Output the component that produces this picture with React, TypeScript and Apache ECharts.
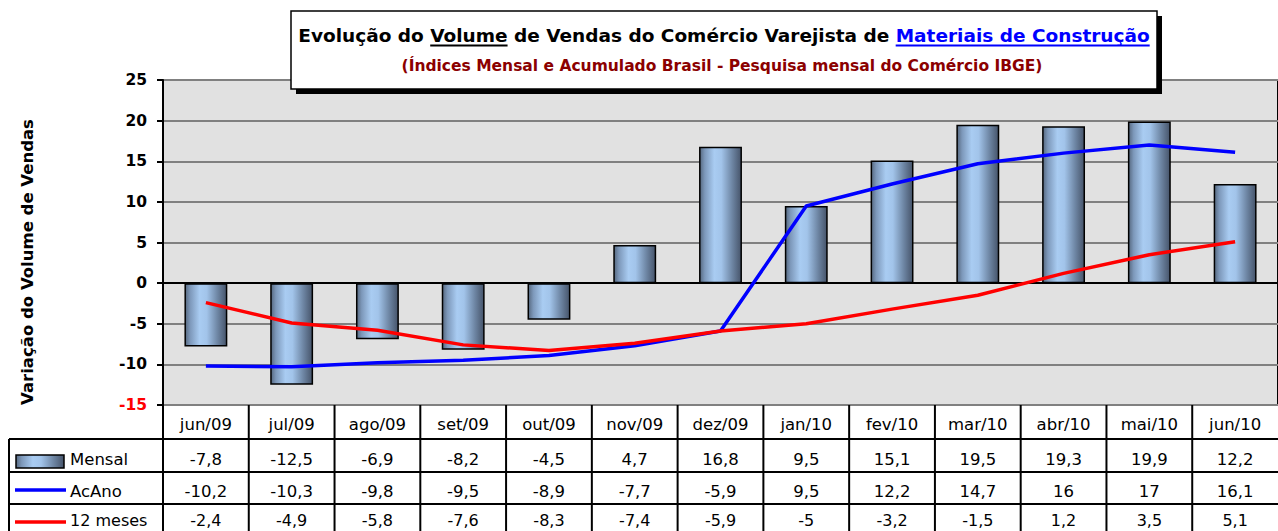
import React, { useEffect, useRef } from 'react';
import * as echarts from 'echarts';

const categories = ['jun/09', 'jul/09', 'ago/09', 'set/09', 'out/09', 'nov/09', 'dez/09', 'jan/10', 'fev/10', 'mar/10', 'abr/10', 'mai/10', 'jun/10'];
const mensal = [-7.8, -12.5, -6.9, -8.2, -4.5, 4.7, 16.8, 9.5, 15.1, 19.5, 19.3, 19.9, 12.2];
const acAno = [-10.2, -10.3, -9.8, -9.5, -8.9, -7.7, -5.9, 9.5, 12.2, 14.7, 16, 17, 16.1];
const dozeMeses = [-2.4, -4.9, -5.8, -7.6, -8.3, -7.4, -5.9, -5, -3.2, -1.5, 1.2, 3.5, 5.1];
const seriesNames = ['Mensal', 'AcAno', '12 meses'];
const yMin = -15;
const yMax = 25;
const yStep = 5;

const titleParts = [
  { text: 'Evolução do ', color: '#000000', underline: false },
  { text: 'Volume', color: '#000000', underline: true },
  { text: ' de Vendas do Comércio Varejista de ', color: '#000000', underline: false },
  { text: 'Materiais de Construção', color: '#0000ff', underline: true },
];
const subtitle = '(Índices Mensal e Acumulado Brasil - Pesquisa mensal do Comércio IBGE)';
const yAxisTitle = 'Variação do Volume de Vendas';

const W = 1278;
const H = 531;
const GRID = { left: 163, top: 80, right: 0, bottom: 126 };
const BOLD_FONT = '"DejaVu Sans", Verdana, sans-serif';
const TABLE_FONT = '"DejaVu Sans", Verdana, sans-serif';

const fmt = (v: number) => String(v).replace('.', ',');

const barGradient = () =>
  new echarts.graphic.LinearGradient(0, 0, 1, 0, [
    { offset: 0, color: '#56687f' },
    { offset: 0.12, color: '#7d98ba' },
    { offset: 0.35, color: '#a9ccf2' },
    { offset: 0.52, color: '#a2c4ea' },
    { offset: 0.78, color: '#6e86a4' },
    { offset: 1, color: '#46546a' },
  ]);

function measure(text: string, font: string): number {
  const c = document.createElement('canvas');
  const ctx = c.getContext('2d');
  if (!ctx) return text.length * 9;
  ctx.font = font;
  return ctx.measureText(text).width;
}

function fitSize(text: string, target: number, maxSize: number): number {
  const w = measure(text, `bold 100px ${BOLD_FONT}`);
  const s = (100 * target) / w;
  return Math.min(maxSize, Math.max(10, s));
}

function buildGraphics(): any[] {
  const g: any[] = [];
  // Title box with shadow
  const bx = 291, by = 11, bw = 866, bh = 78;
  g.push({ type: 'rect', shape: { x: bx + 5, y: by + 5, width: bw, height: bh }, style: { fill: '#000' }, z: 10 });
  g.push({ type: 'rect', shape: { x: bx, y: by, width: bw, height: bh }, style: { fill: '#fff', stroke: '#000', lineWidth: 1.5 }, z: 11 });

  const fullTitle = titleParts.map((p) => p.text).join('');
  const tSize = fitSize(fullTitle, 852, 18.5);
  const tFont = `bold ${tSize}px ${BOLD_FONT}`;
  const widths = titleParts.map((p) => measure(p.text, tFont));
  const total = widths.reduce((a, b) => a + b, 0);
  let x = 724 - total / 2;
  titleParts.forEach((p, i) => {
    g.push({
      type: 'text', x, y: 35, z: 12,
      style: { text: p.text, fill: p.color, font: tFont, align: 'left', verticalAlign: 'middle' },
    });
    if (p.underline) {
      g.push({ type: 'line', z: 12, shape: { x1: x, y1: 45.5, x2: x + widths[i], y2: 45.5 }, style: { stroke: p.color, lineWidth: 2 } });
    }
    x += widths[i];
  });
  const sSize = fitSize(subtitle, 742, 15.5);
  g.push({
    type: 'text', x: 722, y: 66, z: 12,
    style: { text: subtitle, fill: '#8b0000', font: `bold ${sSize}px ${BOLD_FONT}`, align: 'center', verticalAlign: 'middle' },
  });

  // Y axis title
  g.push({
    type: 'text', x: 27, y: 262, rotation: Math.PI / 2, z: 12,
    style: { text: yAxisTitle, fill: '#000', font: `bold 16.5px ${BOLD_FONT}`, align: 'center', verticalAlign: 'middle' },
  });

  // Data table
  const n = categories.length;
  const colW = (W - GRID.left) / n;
  const plotBottom = H - GRID.bottom;
  const rowLines = [439, 472, 504];
  const rowCenters = [424, 459.5, 491, 520.5];
  rowLines.forEach((y) => {
    g.push({ type: 'line', z: 5, shape: { x1: 9, y1: y, x2: W, y2: y }, style: { stroke: '#000', lineWidth: 2 } });
  });
  for (let i = 0; i < n; i++) {
    const lx = GRID.left + i * colW;
    g.push({ type: 'line', z: 5, shape: { x1: lx, y1: plotBottom, x2: lx, y2: H }, style: { stroke: '#000', lineWidth: 2 } });
  }
  g.push({ type: 'line', z: 5, shape: { x1: 9, y1: rowLines[0], x2: 9, y2: H }, style: { stroke: '#000', lineWidth: 2 } });

  const cellFont = `16.5px ${TABLE_FONT}`;
  const lastFont = `16px ${TABLE_FONT}`;
  const rows = [mensal, acAno, dozeMeses];
  categories.forEach((c, i) => {
    const cx = GRID.left + (i + 0.5) * colW;
    g.push({ type: 'text', x: cx, y: rowCenters[0], z: 6, style: { text: c, fill: '#000', font: cellFont, align: 'center', verticalAlign: 'middle' } });
    rows.forEach((r, j) => {
      g.push({ type: 'text', x: cx, y: rowCenters[j + 1], z: 6, style: { text: fmt(r[i]), fill: '#000', font: j === 2 ? lastFont : cellFont, align: 'center', verticalAlign: 'middle' } });
    });
  });

  // Legend keys
  g.push({ type: 'rect', z: 6, shape: { x: 16, y: 455, width: 48, height: 13 }, style: { fill: barGradient(), stroke: '#000', lineWidth: 1.5 } });
  g.push({ type: 'line', z: 6, shape: { x1: 15, y1: 490, x2: 66, y2: 490 }, style: { stroke: '#0000ff', lineWidth: 3.5 } });
  g.push({ type: 'line', z: 6, shape: { x1: 15, y1: 522, x2: 66, y2: 522 }, style: { stroke: '#ff0000', lineWidth: 3.5 } });
  seriesNames.forEach((s, j) => {
    g.push({ type: 'text', x: 70, y: rowCenters[j + 1], z: 6, style: { text: s, fill: '#000', font: j === 2 ? lastFont : cellFont, align: 'left', verticalAlign: 'middle' } });
  });
  return g;
}

export default function App() {
  const ref = useRef<HTMLDivElement>(null);
  useEffect(() => {
    if (!ref.current) return;
    const chart = echarts.init(ref.current, undefined, { renderer: 'svg' });
    chart.setOption({
      animation: false,
      backgroundColor: '#ffffff',
      textStyle: { fontFamily: BOLD_FONT },
      grid: {
        left: GRID.left, right: GRID.right, top: GRID.top, bottom: GRID.bottom,
        show: true, backgroundColor: '#e1e1e1', borderColor: '#000', borderWidth: 2,
      },
      xAxis: {
        type: 'category',
        data: categories,
        boundaryGap: true,
        axisLine: { show: true, onZero: true, lineStyle: { color: '#000', width: 2 } },
        axisTick: { show: false },
        axisLabel: { show: false },
        splitLine: { show: false },
      },
      yAxis: {
        type: 'value',
        min: yMin, max: yMax, interval: yStep,
        axisLine: { show: true, lineStyle: { color: '#000', width: 2 } },
        axisTick: { show: true, length: 6, lineStyle: { color: '#000', width: 2 } },
        axisLabel: {
          margin: 16,
          formatter: (v: number, i: number) => (i === 0 ? `{r|${v}}` : `{b|${v}}`),
          rich: {
            r: { color: '#ff0000', fontWeight: 'bold', fontSize: 15.5, fontFamily: BOLD_FONT },
            b: { color: '#000000', fontWeight: 'bold', fontSize: 15.5, fontFamily: BOLD_FONT },
          },
        },
        splitLine: { show: true, lineStyle: { color: '#808080', width: 2 } },
      },
      series: [
        {
          name: seriesNames[0], type: 'bar', data: mensal, barWidth: '50%', z: 2,
          itemStyle: { color: barGradient(), borderColor: '#000', borderWidth: 1.5 },
        },
        {
          name: seriesNames[1], type: 'line', data: acAno, symbol: 'none', z: 4,
          lineStyle: { color: '#0000ff', width: 3.5 },
        },
        {
          name: seriesNames[2], type: 'line', data: dozeMeses, symbol: 'none', z: 4,
          lineStyle: { color: '#ff0000', width: 3.5 },
        },
      ],
      graphic: buildGraphics(),
    });
    return () => chart.dispose();
  }, []);
  return (
    <div style={{ position: 'fixed', left: 0, top: 0, width: W, height: H, background: '#fff' }}>
      <div ref={ref} style={{ width: W, height: H }} />
    </div>
  );
}
